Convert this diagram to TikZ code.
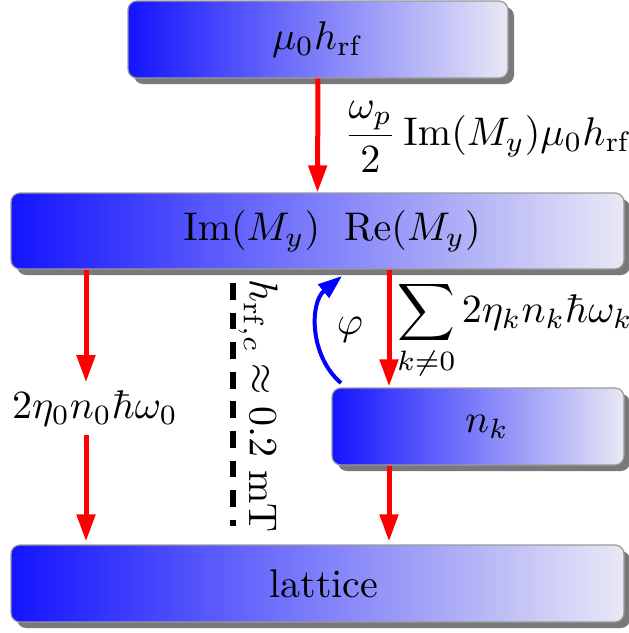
\documentclass[tikz,border=0pt]{standalone}
\usepackage{amsmath}
\usetikzlibrary{arrows.meta,shadows,calc}
\definecolor{boxend}{RGB}{232,232,245}
\definecolor{boxstart}{RGB}{20,20,255}
\tikzset{
  box/.style={rounded corners=2.25pt, draw=gray!80, line width=0.3pt,
    left color=boxstart, right color=boxend, inner sep=0pt,
    drop shadow={shadow xshift=1.5pt, shadow yshift=-1.5pt, fill=gray!95!black, opacity=1}},
  flow/.style={draw=red, line width=1.25pt, -{Triangle[length=6.75pt,width=4.5pt]}},
  phiarrow/.style={draw=blue, line width=1pt, -{Triangle[length=6pt,width=4.2pt]}},
  critline/.style={draw=black, line width=1.3pt, dash pattern=on 4.2pt off 3.2pt},
  lab/.style={inner sep=0pt}
}
\begin{document}
\begin{tikzpicture}[x=0.25pt, y=-0.25pt]
\useasboundingbox (0,0) rectangle (629,633);

% boxes
\node[box, minimum width=95pt, minimum height=19.25pt] (top) at (318,39.5) {$\mu_0 h_{\mathrm{rf}}$};
\node[box, minimum width=153.25pt, minimum height=19pt] (mid) at (317.5,231) {\hspace{7.25pt}$\mathrm{Im}(M_y)\hspace{6pt}\mathrm{Re}(M_y)$};
\node[box, minimum width=73pt, minimum height=19.25pt] (nk) at (478,426.5) {\hspace{4.5pt}$n_k$};
\node[box, minimum width=153.25pt, minimum height=19.25pt] (lat) at (317.5,583.5) {\hspace{3.25pt}lattice};

% labels
\node[lab] (flab) at (488,137) {$\dfrac{\omega_p}{2}\,\mathrm{Im}(M_y)\mu_0 h_{\mathrm{rf}}$};
\node[lab] (slab) at (515,330) {$\displaystyle\sum_{k\neq 0} 2\eta_k n_k \hbar\omega_k$};
\node[lab, minimum height=12pt] (l0) at (95,408) {$2\eta_0 n_0\hbar\omega_0$};
\node[lab, rotate=-90] (crit) at (258,406) {$h_{\mathrm{rf},c}\approx 0.2$ mT};

% column coordinates
\coordinate (xl) at (86,0);
\coordinate (xr) at (389,0);
\coordinate (dA) at (233,283);
\coordinate (dB) at (233,526);
\coordinate (phiA) at (341,383);
\coordinate (phiB) at (342,276);

% connectors
\draw[flow] (top.south) -- (mid.north);
\draw[flow] (mid.south -| xl) -- ($(l0.north -| xl)+(0,-1)$);
\draw[flow] ($(l0.south -| xl)+(0,2)$) -- ($(lat.north -| xl)+(0,-3)$);
\draw[flow] (mid.south -| xr) -- ($(nk.north -| xr)+(0,-1)$);
\draw[flow] (nk.south -| xr) -- ($(lat.north -| xr)+(0,-3)$);
\draw[critline] (dA) -- (dB);
\draw[phiarrow] (phiA) to[bend left=50] node[right=1pt, pos=0.5] (philab) {$\varphi$} (phiB);
\end{tikzpicture}
\end{document}
